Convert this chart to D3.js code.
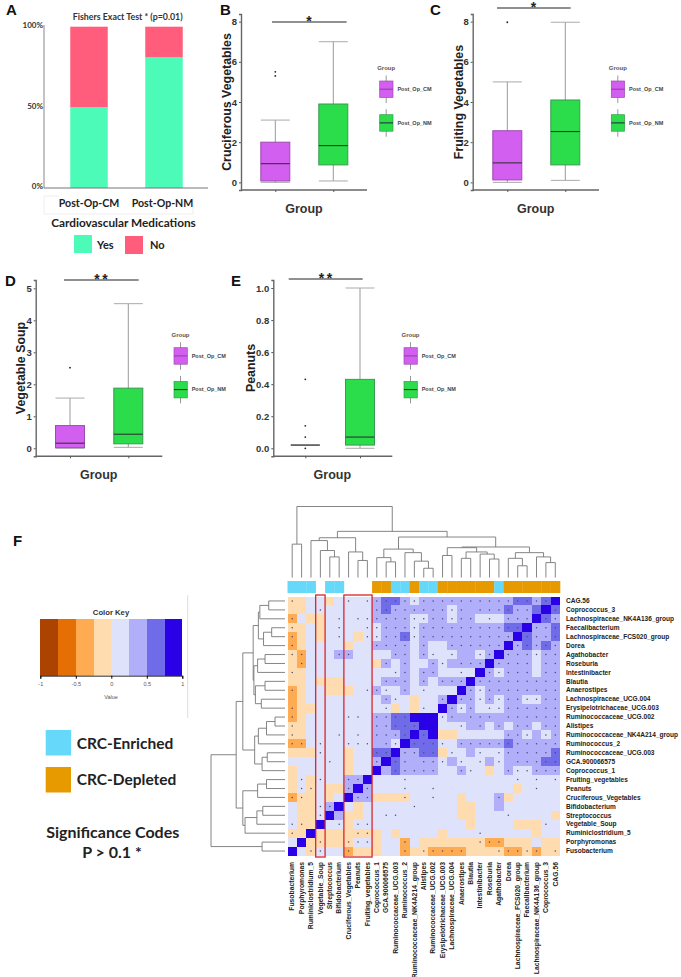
<!DOCTYPE html>
<html>
<head>
<meta charset="utf-8">
<script src="https://cdn.jsdelivr.net/npm/d3@7"></script>
<style>
  body { margin: 0; background: #fff; }
  svg { display: block; font-family: "Liberation Sans", Arial, sans-serif; }
  .lato { font-family: Lato, sans-serif; }
</style>
</head>
<body>
<div id="chart"></div>
<script>
/* DATA */
// panel A
const medGroups = ["Post-Op-CM", "Post-Op-NM"];
const medYes = [50, 81];
const medNo = [50, 19];
const medTicks = [0, 50, 100];

// box plots: [low whisker, q1, median, q3, high whisker]
const boxGroups = ["Post_Op_CM", "Post_Op_NM"];
const cruciferousCM = [0, 0.07, 0.93, 2, 3.1];
const cruciferousNM = [0.07, 0.87, 1.83, 3.9, 7];
const cruciferousOut = [5.3, 5.5];
const fruitingCM = [0, 0.12, 0.97, 2.57, 5];
const fruitingNM = [0.1, 0.87, 2.53, 4.1, 7.97];
const fruitingOut = [7.97];
const soupCM = [0, 0.02, 0.16, 0.71, 1.57];
const soupNM = [0.03, 0.14, 0.44, 1.88, 4.52];
const soupOut = [2.52];
const peanutsCM = [0.02, 0.02, 0.02, 0.02, 0.02];
const peanutsNM = [0, 0.02, 0.07, 0.43, 1];
const peanutsOut = [0, 0.07, 0.14, 0.43];

// panel F
const colLabels = ["Fusobacterium", "Porphyromonas", "Ruminiclostridium_5", "Vegetable_Soup", "Streptococcus",
  "Bifidobacterium", "Cruciferous_Vegetables", "Peanuts", "Fruiting_vegetables", "Coprococcus_1", "GCA.900066575",
  "Ruminococcaceae_UCG.003", "Ruminococcus_2", "Ruminococcaceae_NK4A214_group", "Alistipes", "Ruminococcaceae_UCG.002",
  "Erysipelotrichaceae_UCG.003", "Lachnospiraceae_UCG.004", "Anaerostipes", "Blautia", "Intestinibacter", "Roseburia",
  "Agathobacter", "Dorea", "Lachnospiraceae_FCS020_group", "Faecalibacterium", "Lachnospiraceae_NK4A136_group",
  "Coprococcus_3", "CAG.56"];
const rowLabels = colLabels.slice().reverse();
// E = CRC-enriched, D = CRC-depleted, N = neither
const colGroups = "EEENEENNNDDEEDEEDDDDDDEDDDDDD".split("");
const keyColors = ["#ad4300", "#e56e05", "#ffab52", "#ffdcb0", "#dfe2fb", "#b1aefa", "#706be8", "#2a00e6"];
const keyTicks = [-1, -0.5, 0, 0.5, 1];
const binMids = [-0.875, -0.625, -0.375, -0.125, 0.125, 0.375, 0.625, 0.875];
// one string per row, top to bottom, one colour-key bin per column
const corrBins = [
  "33443444456654555555555566567",
  "33444444456555555455555655676",
  "24334444455554455455444555765",
  "33434444445554555555555667556",
  "23434443445564555555555576556",
  "23444434455554544555555756565",
  "32444554444554544455457555455",
  "32444444435454454555575555455",
  "33444444444454554444754555455",
  "33433344445554545557555555555",
  "23443334454454444475455555555",
  "23444444445443445755454554455",
  "23344444444343447545444555555",
  "23444444455667774555555555555",
  "33444444455666774445545455455",
  "33444444455567673344444554545",
  "22444444455476664455555655555",
  "33344434466755663445444555556",
  "44444434457655554544454555566",
  "34444434475655554454434544555",
  "34344455744444444444444444444",
  "34343357544444444444444434444",
  "23343475533334444434445344444",
  "43345743444444444433445444444",
  "43347533444444444433444444443",
  "43374434444444444443444433344",
  "33733333334344443444444444344",
  "47333334434424333333322333433",
  "74344423334423322223333223233"
];
// same shape, * = significant cell
const corrSig = [
  "*.....*.********************.",
  "...*.....**********.******..*.*".slice(0, 29),
  "*....*.*************.*.***.**",
  "*....*..*****************.***",
  "*....*..****************.****",
  "*........****.*..******.*****",
  "**...**....**.**.*..**.******",
  ".*........*.*..**.***.****.**",
  "*..........**.**..*..*****.**",
  "..........***.*.***.*********",
  "*.......***.*.*....**********",
  "..........**....*.***********",
  "*.........*...*..***.********",
  "*.....**.****...**.***.******",
  "*........*****....*.*.*.**.**",
  "*....*.*.****.*........***.**",
  "**.*..***.**.****.***********",
  "...*.....**.****.*..*.*******",
  "....*....*.**.***.*.*.*.*****",
  "...........*****..**...******",
  ".*.*..**....*...........*.*.*",
  ".**...*.*...*..*..........*..",
  "**.....**...*..*......*......",
  "...**........*...............",
  "...*......**...........*.....",
  "**...*.**..................*.",
  "*......**...........*........",
  "...*..***...*.......***......",
  "..**..*.....*.*****...*****.*"
];
// dendrograms: [merge height, child, child], leaves are column / row positions
const colTree = [1,
  [0.47, 0, 1],
  [0.65,
    [0.56,
      [0.52, 2, [0.38, 3, [0.29, 4, 5]]],
      [0.36, 6, [0.24, 7, 8]]],
    [0.57,
      [0.4,
        [0.28, 9, [0.22, 10, 11]],
        [0.35, 12, [0.23, 13, [0.13, 14, 15]]]],
      [0.43,
        [0.42,
          [0.31, 16, 17],
          [0.36, [0.27, 18, 19], [0.33, 20, [0.26, 21, 22]]]],
        [0.35,
          [0.27, 23, [0.165, 24, 25]],
          [0.29, 26, [0.21, 27, 28]]]]]]];
const rowTree = [1,
  [0.66,
    [0.57,
      [0.43,
        [0.36, [0.34, [0.22, 0, 1], 2], [0.29, [0.18, 3, 4], 5]],
        [0.42, [0.37, [0.27, 6, 7], 8], [0.4, [0.27, 9, 10], [0.32, 11, 12]]]],
      [0.41,
        [0.36, [0.25, [0.135, 13, 14], 15], 16],
        [0.31, [0.24, 17, 18], 19]]],
    [0.57,
      [0.37, [0.25, 20, 21], 22],
      [0.54, [0.38, [0.3, 23, 24], 25], 26]]],
  [0.31, 27, 28]];

/* CONSTANTS AND GLOBALS */
const width = 681, height = 977;
const boxFill = ["#d35ff0", "#2bdc4b"];
const boxStroke = ["#9c4bb0", "#3a9a4f"];
const yesColor = "#4dfbb8", noColor = "#ff5d7b";
const enrichedColor = "#66d9fb", depletedColor = "#e69a00";
const textDark = "#222";

const svg = d3.select("#chart").append("svg")
  .attr("width", width)
  .attr("height", height);

function panelLetter(s, x, y) {
  svg.append("text").attr("x", x).attr("y", y)
    .attr("font-size", 15).attr("font-weight", "bold").attr("fill", "#111").text(s);
}
panelLetter("A", 6, 15);
panelLetter("B", 220, 15);
panelLetter("C", 430, 15);
panelLetter("D", 5, 286);
panelLetter("E", 231, 286);
panelLetter("F", 13, 546);

/* PANEL A */
function drawPanelA() {
  const x = d3.scaleBand().domain(medGroups).range([51.5, 201.5]).paddingInner(0.5).paddingOuter(0.25);
  const y = d3.scaleLinear().domain([0, 100]).range([188, 26.7]);
  const g = svg.append("g");

  g.selectAll(".yes").data(medGroups).join("rect")
    .attr("x", d => x(d)).attr("width", x.bandwidth())
    .attr("y", (d, i) => y(medYes[i]))
    .attr("height", (d, i) => y(0) - y(medYes[i]))
    .attr("fill", yesColor);
  g.selectAll(".no").data(medGroups).join("rect")
    .attr("x", d => x(d)).attr("width", x.bandwidth())
    .attr("y", y(100))
    .attr("height", (d, i) => y(0) - y(medNo[i]))
    .attr("fill", noColor);

  const yAxis = g.append("g").attr("transform", "translate(44,0)")
    .call(d3.axisLeft(y).tickValues(medTicks).tickFormat(d => d + "%").tickSize(0));
  yAxis.select(".domain").attr("d", "M0,188V25").attr("stroke", "#888");
  yAxis.selectAll("text").attr("class", "lato").attr("font-size", 8).attr("font-weight", "bold")
    .attr("fill", "#333").attr("x", -1).attr("dy", "0.1em");

  g.append("line").attr("x1", 44).attr("x2", 208).attr("y1", 188).attr("y2", 188)
    .attr("stroke", "#777").attr("stroke-width", 1.2);
  // faint box that sits behind the group labels
  g.append("path").attr("d", "M44,214V196H59M44,214H193V197")
    .attr("fill", "none").attr("stroke", "#eee");

  g.append("text").attr("class", "lato").attr("x", 127.7).attr("y", 20).attr("text-anchor", "middle")
    .attr("font-size", 8.8).attr("font-weight", "bold").attr("fill", "#333")
    .text("Fishers Exact Test * (p=0.01)");
  g.selectAll(".grp").data(medGroups).join("text")
    .attr("class", "lato")
    .attr("x", d => x(d) + x.bandwidth() / 2 + (d === medGroups[1] ? -1.5 : 0)).attr("y", 207)
    .attr("text-anchor", "middle").attr("font-size", 10.6).attr("font-weight", "bold").attr("fill", textDark)
    .text(d => d);
  g.append("text").attr("class", "lato").attr("x", 123.5).attr("y", 226.7).attr("text-anchor", "middle")
    .attr("font-size", 11.8).attr("font-weight", "bold").attr("fill", textDark)
    .text("Cardiovascular Medications");

  g.append("rect").attr("x", 74).attr("y", 235).attr("width", 18).attr("height", 18).attr("fill", yesColor);
  g.append("rect").attr("x", 125).attr("y", 236).attr("width", 18).attr("height", 18).attr("fill", noColor);
  g.append("text").attr("class", "lato").attr("x", 97).attr("y", 249).attr("font-size", 11)
    .attr("font-weight", "bold").attr("fill", textDark).text("Yes");
  g.append("text").attr("class", "lato").attr("x", 150).attr("y", 249).attr("font-size", 11)
    .attr("font-weight", "bold").attr("fill", textDark).text("No");
}

/* BOX PANELS */
function drawBoxPanel(p) {
  const g = svg.append("g");
  const y = d3.scaleLinear().domain(p.yDomain).range([p.bottom, p.top]);
  const x = d3.scalePoint().domain(boxGroups).range(p.centers);
  const bw = 29;
  const stats = [p.cm, p.nm];

  boxGroups.forEach((name, i) => {
    const s = stats[i], cx = x(name);
    const box = g.append("g");
    box.append("line").attr("x1", cx).attr("x2", cx).attr("y1", y(s[0])).attr("y2", y(s[4]))
      .attr("stroke", "#999");
    [s[0], s[4]].forEach(v => box.append("line")
      .attr("x1", cx - bw / 2).attr("x2", cx + bw / 2).attr("y1", y(v)).attr("y2", y(v))
      .attr("stroke", "#aaa"));
    box.append("rect").attr("x", cx - bw / 2).attr("width", bw)
      .attr("y", y(s[3])).attr("height", y(s[1]) - y(s[3]))
      .attr("fill", boxFill[i]).attr("stroke", boxStroke[i]);
    box.append("line").attr("x1", cx - bw / 2).attr("x2", cx + bw / 2).attr("y1", y(s[2])).attr("y2", y(s[2]))
      .attr("stroke", "#333").attr("stroke-width", 1.1);
  });
  g.selectAll("circle").data(p.out).join("circle")
    .attr("cx", x(boxGroups[0])).attr("cy", d => y(d)).attr("r", 0.9).attr("fill", "#222");

  // axes
  const yAxis = g.append("g").attr("transform", `translate(${p.left},0)`)
    .call(d3.axisLeft(y).tickValues(p.ticks).tickFormat(p.fmt).tickSize(2).tickPadding(2));
  yAxis.select(".domain").attr("stroke", "#666").attr("stroke-width", 1.4);
  yAxis.selectAll(".tick line").attr("stroke", "#555");
  yAxis.selectAll("text").attr("font-size", 9.5).attr("font-weight", "bold").attr("fill", "#333");

  const xAxis = g.append("g").attr("transform", `translate(0,${p.bottom})`)
    .call(d3.axisBottom(x).tickFormat("").tickSize(2).tickSizeOuter(0));
  xAxis.select(".domain").attr("d", `M${p.left},0H${p.right}`).attr("stroke", "#666").attr("stroke-width", 1.4);
  xAxis.selectAll(".tick line").attr("stroke", "#555");

  g.append("text").attr("transform", `translate(${p.labelX},${p.labelY}) rotate(-90)`)
    .attr("text-anchor", "middle").attr("font-size", 12.4).attr("font-weight", "bold").attr("fill", "#222")
    .text(p.label);
  g.append("text").attr("x", p.groupX).attr("y", p.bottom + 22.5).attr("text-anchor", "middle")
    .attr("font-size", 12.5).attr("font-weight", "bold").attr("fill", "#333").text("Group");

  // significance bar
  g.append("line").attr("x1", p.sig[0]).attr("x2", p.sig[1]).attr("y1", p.sigY).attr("y2", p.sigY)
    .attr("stroke", "#222").attr("stroke-width", 1.1);
  g.append("text").attr("x", (p.sig[0] + p.sig[1]) / 2 + 1).attr("y", p.sigY + 4).attr("text-anchor", "middle")
    .attr("font-size", 14).attr("font-weight", "bold").attr("fill", "#222").attr("letter-spacing", 2.6).text(p.stars);

  // legend
  g.append("text").attr("x", p.legX - 2.5).attr("y", p.legY - 11).attr("font-size", 6)
    .attr("font-weight", "bold").attr("fill", "#555").text("Group");
  boxGroups.forEach((name, i) => {
    const ly = p.legY + i * 33.7, key = g.append("g");
    key.append("line").attr("x1", p.legX + 6.5).attr("x2", p.legX + 6.5).attr("y1", ly - 5.5).attr("y2", ly + 22)
      .attr("stroke", "#999");
    key.append("rect").attr("x", p.legX).attr("y", ly).attr("width", 13.3).attr("height", 16.5)
      .attr("fill", boxFill[i]).attr("stroke", boxStroke[i]).attr("stroke-width", 0.7);
    key.append("line").attr("x1", p.legX).attr("x2", p.legX + 13.3).attr("y1", ly + 8.2).attr("y2", ly + 8.2)
      .attr("stroke", i ? "#224" : "#8a3f9c");
    g.append("text").attr("x", p.legX + 17.7).attr("y", ly + 10).attr("font-size", 5.5)
      .attr("font-weight", "bold").attr("fill", "#444").text(name);
  });
}

/* PANEL F */
function drawTree(tree, leafPos, heightPos, horizontal) {
  const root = d3.hierarchy(tree, d => Array.isArray(d) ? d.slice(1) : null);
  root.eachAfter(n => {
    if (n.children) {
      n.p = d3.mean(n.children, c => c.p);
      n.h = n.data[0];
    } else {
      n.p = leafPos(n.data);
      n.h = 0;
    }
  });
  const line = d3.line();
  const pt = (pos, h) => horizontal ? [heightPos(h), pos] : [pos, heightPos(h)];
  svg.append("g").selectAll("path")
    .data(root.descendants().filter(n => n.children))
    .join("path")
    .attr("fill", "none").attr("stroke", "#777").attr("stroke-width", 0.9)
    .attr("d", n => {
      const [a, b] = n.children;
      return line([pt(a.p, a.h), pt(a.p, n.h), pt(b.p, n.h), pt(b.p, b.h)]);
    });
}

function drawHeatmap() {
  const x = d3.scaleBand().domain(colLabels).range([287.5, 560]);
  const y = d3.scaleBand().domain(rowLabels).range([596.5, 855.5]);
  const color = d3.scaleQuantize().domain([-1, 1]).range(keyColors);

  const cells = [];
  rowLabels.forEach((r, i) => colLabels.forEach((c, j) => {
    cells.push({ r, c, v: binMids[+corrBins[i][j]], sig: corrSig[i][j] === "*" });
  }));

  const g = svg.append("g");
  g.selectAll("rect").data(cells).join("rect")
    .attr("x", d => x(d.c)).attr("y", d => y(d.r))
    .attr("width", x.bandwidth()).attr("height", y.bandwidth())
    .attr("shape-rendering", "crispEdges")
    .attr("fill", d => color(d.v));
  g.selectAll("circle").data(cells.filter(d => d.sig)).join("circle")
    .attr("cx", d => x(d.c) + x.bandwidth() / 2).attr("cy", d => y(d.r) + y.bandwidth() / 2)
    .attr("r", 0.75).attr("fill", "#4a4a70");

  // group bar above the columns
  const groupColor = { E: enrichedColor, D: depletedColor };
  svg.append("g").selectAll("rect")
    .data(colLabels.filter((c, i) => colGroups[i] !== "N"))
    .join("rect")
    .attr("x", d => x(d)).attr("y", 581).attr("width", x.bandwidth() + 0.3).attr("height", 12)
    .attr("fill", d => groupColor[colGroups[colLabels.indexOf(d)]]);

  // labels
  svg.append("g").selectAll("text").data(rowLabels).join("text")
    .attr("x", 566).attr("y", d => y(d) + y.bandwidth() / 2 + 2.2)
    .attr("font-size", 6.55).attr("font-weight", "bold").attr("fill", "#222").text(d => d);
  svg.append("g").selectAll("text").data(colLabels).join("text")
    .attr("transform", d => `translate(${x(d) + x.bandwidth() / 2 + 2.2},862) rotate(-90)`)
    .attr("text-anchor", "end")
    .attr("font-size", 6.8).attr("font-weight", "bold").attr("fill", "#222").text(d => d);

  // dendrograms
  const colH = d3.scaleLinear().domain([0, 1]).range([577.5, 506.5]);
  const rowH = d3.scaleLinear().domain([0, 1]).range([285, 211]);
  drawTree(colTree, i => x(colLabels[i]) + x.bandwidth() / 2, colH, false);
  drawTree(rowTree, i => y(rowLabels[i]) + y.bandwidth() / 2, rowH, true);

  // red boxes around the food columns
  const boxed = [["Vegetable_Soup", "Vegetable_Soup"], ["Cruciferous_Vegetables", "Fruiting_vegetables"]];
  svg.append("g").selectAll("rect").data(boxed).join("rect")
    .attr("x", d => x(d[0])).attr("y", 595)
    .attr("width", d => x(d[1]) + x.bandwidth() - x(d[0])).attr("height", 262)
    .attr("fill", "none").attr("stroke", "#d8262c").attr("stroke-width", 1.3);
}

function drawKey() {
  const color = d3.scaleQuantize().domain([-1, 1]).range(keyColors);
  const x = d3.scaleLinear().domain([-1, 1]).range([40.3, 182.3]);
  const g = svg.append("g");
  g.selectAll("rect").data(binMids).join("rect")
    .attr("x", d => x(d - 0.125)).attr("y", 619.3)
    .attr("width", x(0.25) - x(0)).attr("height", 56.4)
    .attr("shape-rendering", "crispEdges")
    .attr("fill", d => color(d));
  const axis = g.append("g").attr("transform", "translate(0,675.7)")
    .call(d3.axisBottom(x).tickValues(keyTicks).tickFormat(d => d).tickSize(3).tickPadding(3));
  axis.select(".domain").attr("stroke", "#333");
  axis.selectAll("text").attr("font-size", 5.5).attr("fill", "#555");
  g.append("text").attr("x", 111).attr("y", 615).attr("text-anchor", "middle")
    .attr("font-size", 7.7).attr("font-weight", "bold").attr("fill", "#333").text("Color Key");
  g.append("text").attr("x", 111).attr("y", 699).attr("text-anchor", "middle")
    .attr("font-size", 5.5).attr("fill", "#555").text("Value");
  g.append("line").attr("x1", 187.7).attr("x2", 187.7).attr("y1", 595).attr("y2", 718).attr("stroke", "#ddd");

  const legend = [["CRC-Enriched", enrichedColor, 730, 749], ["CRC-Depleted", depletedColor, 767, 785]];
  legend.forEach(l => {
    g.append("rect").attr("x", 45.7).attr("y", l[2]).attr("width", 25.3).attr("height", 25.5).attr("fill", l[1]);
    g.append("text").attr("class", "lato").attr("x", 76.7).attr("y", l[3]).attr("font-size", 15.5)
      .attr("font-weight", "bold").attr("fill", textDark).text(l[0]);
  });
  g.append("text").attr("class", "lato").attr("x", 112.7).attr("y", 838).attr("text-anchor", "middle")
    .attr("font-size", 16).attr("font-weight", "bold").attr("fill", textDark).text("Significance Codes");
  g.append("text").attr("class", "lato").attr("x", 112).attr("y", 858).attr("text-anchor", "middle")
    .attr("font-size", 16).attr("font-weight", "bold").attr("fill", textDark).text("P > 0.1 *");
}

/* DRAW */
const numFmt = d3.format("d");
drawPanelA();
drawBoxPanel({
  cm: cruciferousCM, nm: cruciferousNM, out: cruciferousOut, label: "Cruciferous Vegetables", stars: "*",
  yDomain: [-0.38, 8.38], ticks: [0, 2, 4, 6, 8], fmt: numFmt,
  top: 14, bottom: 190, left: 241, right: 367, centers: [275.3, 333.3],
  labelX: 230.5, labelY: 102, groupX: 304, sig: [272, 346.6], sigY: 22, legX: 379.7, legY: 81
});
drawBoxPanel({
  cm: fruitingCM, nm: fruitingNM, out: fruitingOut, label: "Fruiting Vegetables", stars: "*",
  yDomain: [-0.38, 8.38], ticks: [0, 2, 4, 6, 8], fmt: numFmt,
  top: 14, bottom: 190, left: 472.7, right: 599, centers: [507.3, 565.3],
  labelX: 463, labelY: 102, groupX: 535.7, sig: [497, 570.7], sigY: 8, legX: 611.3, legY: 81
});
drawBoxPanel({
  cm: soupCM, nm: soupNM, out: soupOut, label: "Vegetable Soup", stars: "**",
  yDomain: [-0.25, 5.26], ticks: [0, 1, 2, 3, 4, 5], fmt: numFmt,
  top: 280, bottom: 456.3, left: 35.7, right: 162.3, centers: [70, 128.3],
  labelX: 25, labelY: 368, groupX: 98.7, sig: [64, 138.7], sigY: 280, legX: 174, legY: 347.7
});
drawBoxPanel({
  cm: peanutsCM, nm: peanutsNM, out: peanutsOut, label: "Peanuts", stars: "**",
  yDomain: [-0.05, 1.05], ticks: [0, 0.2, 0.4, 0.6, 0.8, 1], fmt: d3.format(".1f"),
  top: 280, bottom: 456.3, left: 273.3, right: 392.3, centers: [305.3, 360],
  labelX: 255, labelY: 368, groupX: 332.3, sig: [288.7, 362.7], sigY: 279, legX: 404, legY: 347.7
});
drawHeatmap();
drawKey();
</script>
</body>
</html>
